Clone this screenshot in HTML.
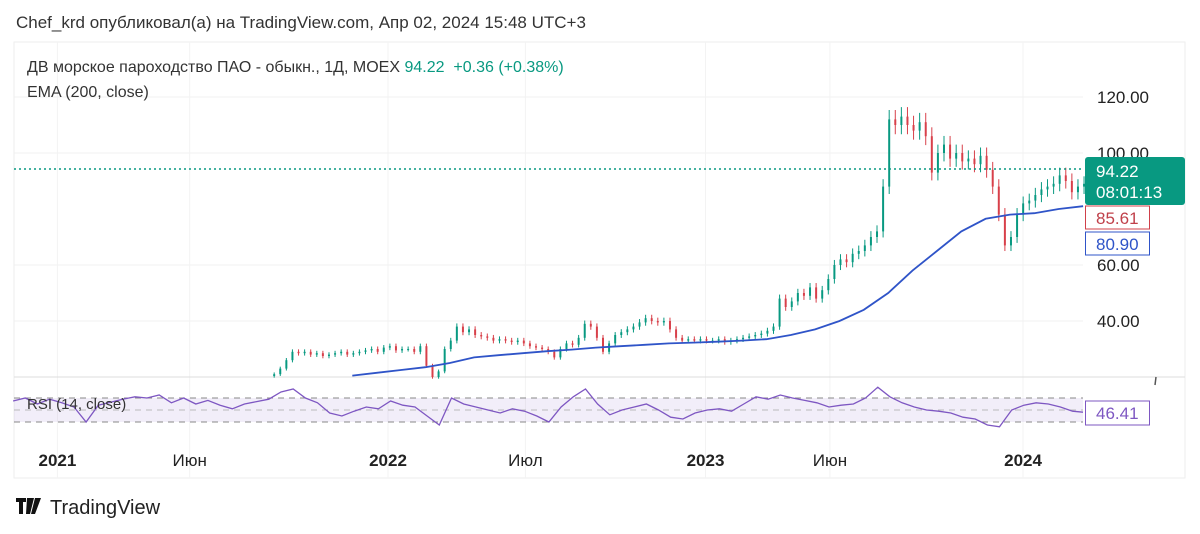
<!DOCTYPE html>
<html><head><meta charset="utf-8"><style>
html,body{margin:0;padding:0;background:#fff;width:1200px;height:534px;overflow:hidden;font-family:"Liberation Sans","DejaVu Sans",sans-serif}
svg{position:absolute;left:0;top:0}
</style></head><body>
<svg id="c" width="1200" height="534">
<text x="16" y="28" font-size="17" fill="#333">Chef_krd опубликовал(а) на TradingView.com, Апр 02, 2024 15:48 UTC+3</text>
<rect x="14" y="42" width="1171" height="436" fill="none" stroke="#eee"/>
<g id="grid"></g>
<text x="27" y="72" font-size="16" fill="#333">ДВ морское пароходство ПАО - обыкн., 1Д, MOEX <tspan fill="#089981">94.22 &#160;+0.36 (+0.38%)</tspan></text>
<text x="27" y="97" font-size="16" fill="#333">EMA (200, close)</text>
<line x1="14" y1="377" x2="1185" y2="377" stroke="#ddd"/>
<line x1="1156" y1="377" x2="1155" y2="385" stroke="#555" stroke-width="1.5"/>
<rect x="14" y="398" width="1069" height="24" fill="#7e57c2" fill-opacity="0.1"/>
<line x1="14" y1="398" x2="1083" y2="398" stroke="#888" stroke-dasharray="6,5"/>
<line x1="14" y1="410" x2="1083" y2="410" stroke="#bbb" stroke-dasharray="6,5"/>
<line x1="14" y1="422" x2="1083" y2="422" stroke="#888" stroke-dasharray="6,5"/>
<g id="candles"></g>
<path id="ema" fill="none" stroke="#2f54c8" stroke-width="1.8"/>
<path id="rsi" fill="none" stroke="#7e57c2" stroke-width="1.3"/>
<text x="27" y="409" font-size="15" fill="#333">RSI (14, close)</text>
<line x1="14" y1="169" x2="1083" y2="169" stroke="#089981" stroke-dasharray="2,3" stroke-width="1.5"/>
<g id="yaxis"></g>
<rect x="1085" y="157" width="100" height="48" rx="3" fill="#089981"/>
<text x="1096" y="177" font-size="17" fill="#fff">94.22</text>
<text x="1096" y="198" font-size="17" fill="#fff">08:01:13</text>
<rect x="1085.5" y="206" width="64" height="23" fill="#fff" stroke="#d0404a"/>
<text x="1096" y="224" font-size="17" fill="#c0404a">85.61</text>
<rect x="1085.5" y="232" width="64" height="23" fill="#fff" stroke="#2f54c8"/>
<text x="1096" y="250" font-size="17" fill="#2f54c8">80.90</text>
<rect x="1085.5" y="401" width="64" height="24" fill="#fff" stroke="#7e57c2"/>
<text x="1096" y="419" font-size="17" fill="#7e57c2">46.41</text>
<g id="xaxis"></g>
<g>
<path d="M16 498h10v4h-3v12h-4v-12h-3z M27 498h4l3 0 -4 16h-4z M35 498h6l-6 16h-4z" fill="#111"/>
<text x="50" y="514" font-size="20" fill="#222">TradingView</text>
</g>
</svg>
<script>
const closes=[21,23,26,29,28.5,29,28,28.5,27.5,28,28.5,29,28,28.5,29,29.5,30,29,30.5,31,29.5,30,30,29,31,24,20,22,30,33,38,36,37,35,34.5,34,33,33.5,33,32.5,33,32,31,30.5,30,29,27,30,32,31.5,34,39,38,34,29,32,35,36,37,38,39.5,41,40,39.5,40,37,34,33,33.5,33,33.5,33,33,33.5,32.5,33,33.5,34,34.5,35,35.5,36.5,38,48,45,47,50,49,52,48,51,55,60,62,61,64,65,67,70,72,88,112,110,113,110,108,111,106,93,100,103,98,100,97,98,96,99,94,88,78,67,70,78,82,83,85,87,88,89,92,90,86,88,89];
const emaVals=[20.5,21.5,22.5,23.5,25,27,27.8,28.5,29.2,29.8,30.5,31,31.5,32,32.3,32.6,33,33.5,35,37,40,44,50,58,65,72,76.5,78,78.5,80,81];
const rsiVals=[65,70,60,68,62,55,30,58,63,68,72,70,75,62,70,60,66,58,52,60,64,68,80,85,70,62,45,40,48,55,52,65,58,55,40,25,70,60,55,50,45,52,48,40,30,55,72,85,60,42,50,55,60,50,38,35,45,50,52,48,60,72,68,75,70,66,62,55,58,60,70,88,72,62,55,50,48,45,38,35,25,22,50,58,62,60,55,48,46.4];
const priceTicks=[40,60,100,120];
const timeTicks=[["2021",-380,true],["Июн",-228,false],["2022",0,true],["Июл",158,false],["2023",365,true],["Июн",508,false],["2024",730,true]];
const NS="http://www.w3.org/2000/svg";
const xDay=d=>388+d*0.8699;
const yP=v=>97+(120-v)*2.8;
const yR=v=>410-(v-50)*0.6;
const closeStart=-132, emaStart=-41, rsiStart=-431;
function mk(t,a,p){const e=document.createElementNS(NS,t);for(const k in a)e.setAttribute(k,a[k]);p.appendChild(e);return e;}
const grid=document.getElementById('grid'),ya=document.getElementById('yaxis'),xa=document.getElementById('xaxis');
priceTicks.forEach(v=>{
 const l=mk('line',{x1:14,x2:1083,y1:yP(v),y2:yP(v),stroke:'#f0f0f0'},grid);
 
 
 const t=mk('text',{x:1097,y:yP(v)+6,'font-size':17,fill:'#222'},ya);t.textContent=v.toFixed(2);
 
 
});
timeTicks.forEach(([s,d,b])=>{
 const l=mk('line',{x1:xDay(d),x2:xDay(d),y1:42,y2:478,stroke:'#f3f3f3'},grid);
 
 
 const t=mk('text',{x:xDay(d),y:466,'font-size':17,'text-anchor':'middle',fill:'#222','font-weight':b?'bold':'normal'},xa);t.textContent=s;
 
 
});
const cg=document.getElementById('candles');
closes.forEach((c,i)=>{
 const o=i?closes[i-1]:c*0.97;const x=xDay(closeStart+i*7);
 const up=c>=o, col=up?'#089981':'#d8404a';
 const hi=Math.max(o,c)*1.03, lo=Math.min(o,c)*0.97;
 const w=mk('line',{x1:x+1,x2:x+1,y1:yP(hi),y2:yP(lo),stroke:col,'stroke-width':1},cg);
 
 
 const r=mk('rect',{x:x,y:yP(Math.max(o,c)),width:2,height:Math.max(1,Math.abs(yP(o)-yP(c))),fill:col},cg);
 
 
});
document.getElementById('ema').setAttribute('d',emaVals.map((v,i)=>(i?'L':'M')+xDay(emaStart+i*28).toFixed(1)+' '+yP(v).toFixed(1)).join(' '));
document.getElementById('rsi').setAttribute('d',rsiVals.map((v,i)=>(i?'L':'M')+Math.min(1083,xDay(rsiStart+i*14)).toFixed(1)+' '+yR(v).toFixed(1)).join(' '));
</script>
</body></html>
